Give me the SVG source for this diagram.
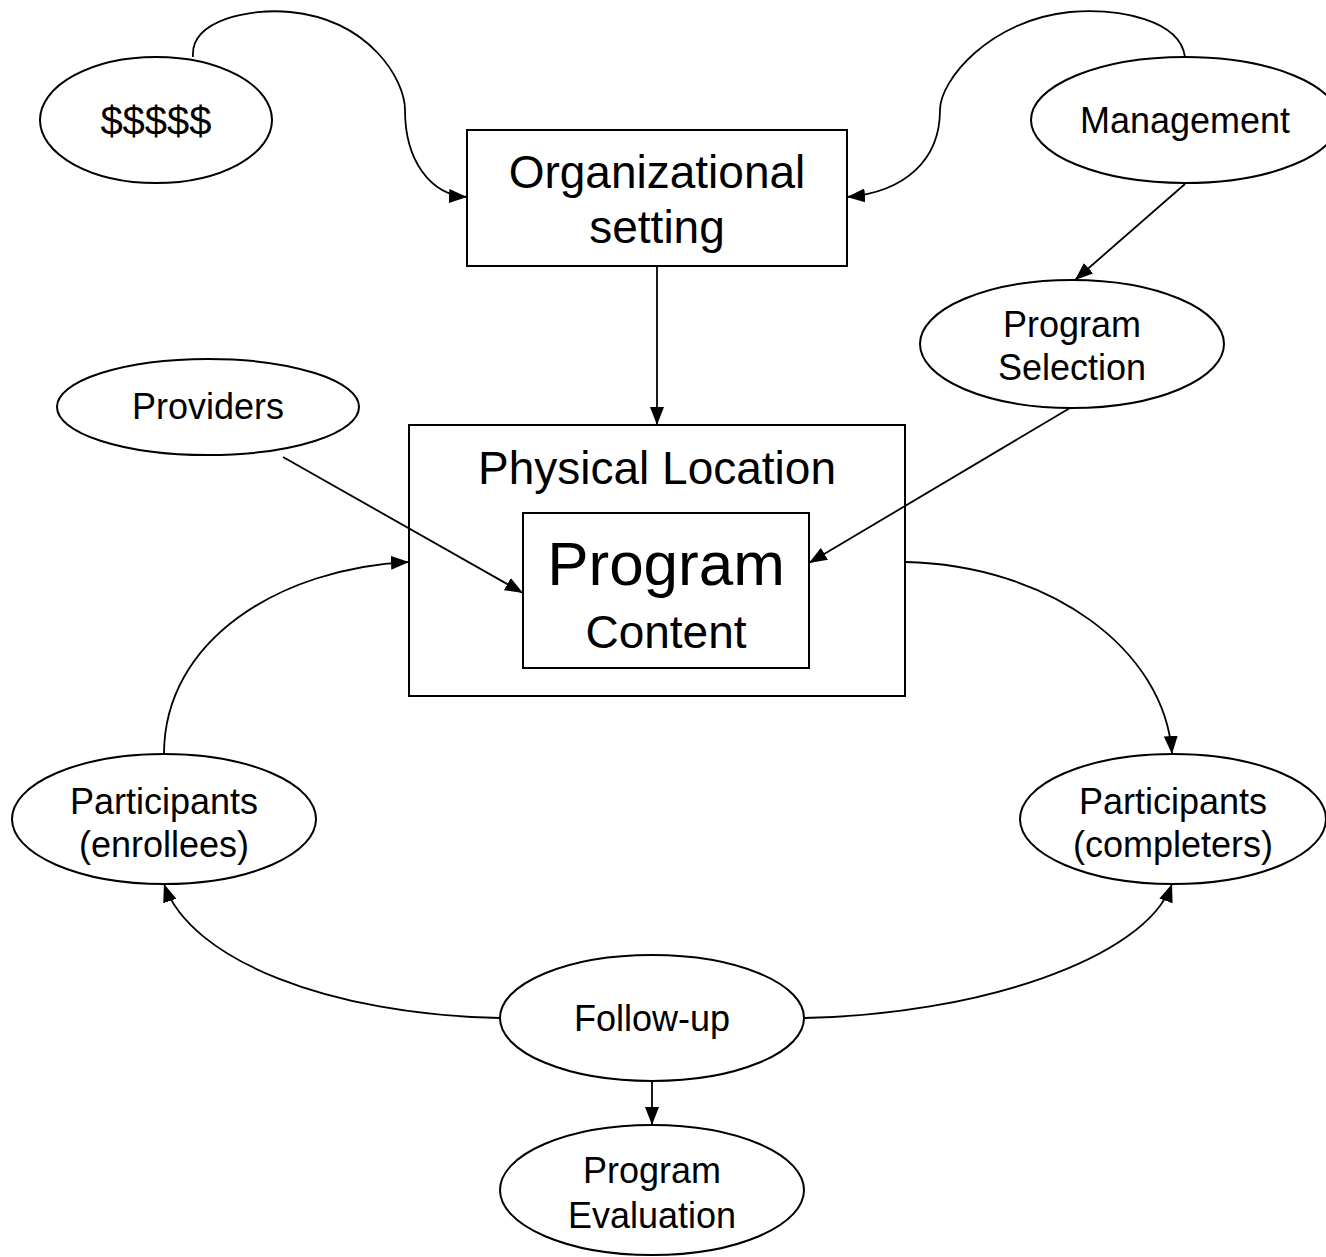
<svg xmlns="http://www.w3.org/2000/svg" width="1326" height="1257" viewBox="0 0 1326 1257">
<defs>
<style>
.n{fill:#fff;stroke:#000;stroke-width:2}
.o{fill:none;stroke:#000;stroke-width:2}
.t{font-family:"Liberation Sans",Arial,sans-serif;fill:#000;text-anchor:middle}
.s{font-size:36px}
.m{font-size:46px}
.c{fill:none;stroke:#000;stroke-width:1.8}
</style>
<marker id="ah" viewBox="0 0 18 14" refX="18" refY="7" markerWidth="18" markerHeight="14" markerUnits="userSpaceOnUse" orient="auto">
<path d="M0,0 L18,7 L0,14 Z" fill="#000"/>
</marker>
</defs>
<rect width="1326" height="1257" fill="#fff"/>
<g id="physical-location">
<rect class="o" x="409" y="425" width="496" height="271"/>
<text class="t m" x="657" y="484">Physical Location</text>
</g>
<g id="connectors">
<path class="c" d="M193,57 C190,20 250,8 290,12 C370,20 405,80 405,110 C405,160 430,195 467,197" marker-end="url(#ah)"/>
<path class="c" d="M1185,57 C1180,20 1120,8 1070,12 C990,20 940,80 940,110 C940,160 905,192 847,197" marker-end="url(#ah)"/>
<path class="c" d="M657,266 L657,425" marker-end="url(#ah)"/>
<path class="c" d="M283,457 L523,593" marker-end="url(#ah)"/>
<path class="c" d="M1185,184 L1075,280" marker-end="url(#ah)"/>
<path class="c" d="M1070,408 L809,563" marker-end="url(#ah)"/>
<path class="c" d="M164,754 C164,640 280,568 409,562" marker-end="url(#ah)"/>
<path class="c" d="M905,562 C1050,565 1165,650 1172,754" marker-end="url(#ah)"/>
<path class="c" d="M500,1018 C330,1015 190,960 164,884" marker-end="url(#ah)"/>
<path class="c" d="M804,1018 C975,1015 1145,960 1172,884" marker-end="url(#ah)"/>
<path class="c" d="M652,1082 L652,1125" marker-end="url(#ah)"/>
</g>
<g id="money">
<ellipse class="n" cx="156" cy="120" rx="116" ry="63"/>
<text class="t" x="156" y="135" font-size="40">$$$$$</text>
</g>
<g id="org-setting">
<rect class="n" x="467" y="130" width="380" height="136"/>
<text class="t m" x="657" y="188">Organizational</text>
<text class="t m" x="657" y="243">setting</text>
</g>
<g id="management">
<ellipse class="n" cx="1185" cy="120" rx="154" ry="63"/>
<text class="t s" x="1185" y="133">Management</text>
</g>
<g id="program-selection">
<ellipse class="n" cx="1072" cy="344" rx="152" ry="64"/>
<text class="t s" x="1072" y="337">Program</text>
<text class="t s" x="1072" y="380">Selection</text>
</g>
<g id="providers">
<ellipse class="o" cx="208" cy="407" rx="151" ry="48"/>
<text class="t s" x="208" y="419">Providers</text>
</g>
<g id="program-content">
<rect class="n" x="523" y="513" width="286" height="155"/>
<text class="t" x="666" y="585" font-size="62">Program</text>
<text class="t m" x="666" y="648">Content</text>
</g>
<g id="participants-enrollees">
<ellipse class="n" cx="164" cy="819" rx="152" ry="65"/>
<text class="t s" x="164" y="814">Participants</text>
<text class="t s" x="164" y="857">(enrollees)</text>
</g>
<g id="participants-completers">
<ellipse class="n" cx="1173" cy="819" rx="153" ry="65"/>
<text class="t s" x="1173" y="814">Participants</text>
<text class="t s" x="1173" y="857">(completers)</text>
</g>
<g id="follow-up">
<ellipse class="n" cx="652" cy="1018" rx="152" ry="63"/>
<text class="t s" x="652" y="1031">Follow-up</text>
</g>
<g id="program-evaluation">
<ellipse class="n" cx="652" cy="1190" rx="152" ry="65"/>
<text class="t s" x="652" y="1183">Program</text>
<text class="t s" x="652" y="1228">Evaluation</text>
</g>
</svg>
